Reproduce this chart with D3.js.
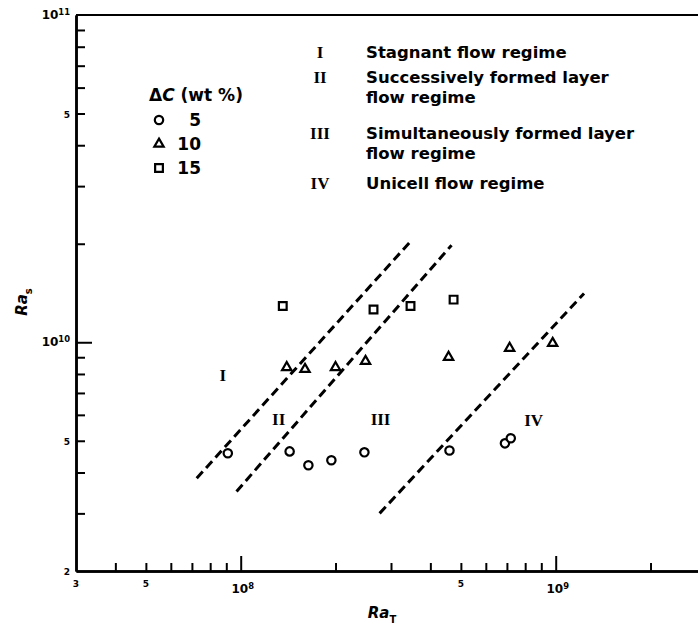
<!DOCTYPE html>
<html>
<head>
<meta charset="utf-8">
<script src="https://cdn.jsdelivr.net/npm/d3@7"></script>
<style>
  body { margin: 0; background: #fff; }
  svg { display: block; font-family: "DejaVu Sans", sans-serif; font-weight: bold; }
</style>
</head>
<body>
<svg></svg>
<script>
const svgWidth = 698
const svgHeight = 631

// measured points, dC = 5, 10, 15 wt%
const circleRaT = [9.1e7, 1.43e8, 1.64e8, 1.94e8, 2.47e8, 4.6e8, 6.9e8, 7.2e8]
const circleRaS = [4.58e9, 4.64e9, 4.21e9, 4.36e9, 4.61e9, 4.67e9, 4.91e9, 5.09e9]
const triangleRaT = [1.4e8, 1.6e8, 2.0e8, 2.49e8, 4.57e8, 7.14e8, 9.78e8]
const triangleRaS = [8.38e9, 8.27e9, 8.38e9, 8.75e9, 9.0e9, 9.59e9, 9.93e9]
const squareRaT = [1.36e8, 2.64e8, 3.46e8, 4.74e8]
const squareRaS = [1.29e10, 1.26e10, 1.29e10, 1.35e10]

// regime boundaries (dashed), [start, end] as [RaT, RaS]
const boundaries = [
  [[7.25e7, 3.84e9], [3.44e8, 2.02e10]],
  [[9.7e7, 3.5e9], [4.67e8, 1.98e10]],
  [[2.76e8, 3.0e9], [1.23e9, 1.41e10]]
]

// regime labels inside the plot
const regimeNames = ["I", "II", "III", "IV"]
const regimeRaT = [8.77e7, 1.32e8, 2.78e8, 8.51e8]
const regimeRaS = [7.93e9, 5.82e9, 5.82e9, 5.77e9]
const regimeText = [
  ["Stagnant flow regime"],
  ["Successively formed layer", "flow regime"],
  ["Simultaneously formed layer", "flow regime"],
  ["Unicell flow regime"]
]

const legendLabels = ["5", "10", "15"]

// axes
const xDomain = [3e7, 3e9]
const yDomain = [2e9, 1e11]
const xMinorTicks = [4e7, 5e7, 6e7, 7e7, 8e7, 9e7, 2e8, 3e8, 4e8, 5e8, 6e8, 7e8, 8e8, 9e8, 2e9]
const xMajorTicks = [1e8, 1e9]
const yMinorTicks = [3e9, 4e9, 5e9, 6e9, 7e9, 8e9, 9e9, 2e10, 3e10, 4e10, 5e10, 6e10, 7e10, 8e10, 9e10]
const yMajorTicks = [1e10]
const xLabelValues = [3e7, 5e7, 1e8, 5e8, 1e9]
const xLabelText = ["3", "5", "10", "5", "10"]
const xLabelSup = ["", "", "8", "", "9"]
const yLabelValues = [2e9, 5e9, 1e10, 5e10, 1e11]
const yLabelText = ["2", "5", "10", "5", "10"]
const yLabelSup = ["", "", "10", "", "11"]

const svg = d3.select("svg")
  .attr("width", svgWidth)
  .attr("height", svgHeight)

const xScale = d3.scaleLog().domain(xDomain).range([76, 706])
const yScale = d3.scaleLog().domain(yDomain).range([571, 15])

const x0 = xScale(xDomain[0])
const y0 = yScale(yDomain[0])

function styleAxis(g) {
  g.select(".domain").attr("stroke-width", 2.5)
  g.selectAll(".tick line").attr("stroke-width", 2)
}

svg.append("g")
  .attr("transform", `translate(0,${y0})`)
  .call(d3.axisBottom(xScale).tickValues(xMinorTicks).tickSizeInner(-8).tickSizeOuter(0).tickFormat(""))
  .call(styleAxis)
svg.append("g")
  .attr("transform", `translate(0,${y0})`)
  .call(d3.axisBottom(xScale).tickValues(xMajorTicks).tickSizeInner(-15).tickSizeOuter(0).tickFormat(""))
  .call(styleAxis)
svg.append("g")
  .attr("transform", `translate(${x0},0)`)
  .call(d3.axisLeft(yScale).tickValues(yMinorTicks).tickSizeInner(-9).tickSizeOuter(0).tickFormat(""))
  .call(styleAxis)
svg.append("g")
  .attr("transform", `translate(${x0},0)`)
  .call(d3.axisLeft(yScale).tickValues(yMajorTicks).tickSizeInner(-16).tickSizeOuter(0).tickFormat(""))
  .call(styleAxis)

// top frame line
svg.append("line")
  .attr("x1", x0)
  .attr("x2", xScale(xDomain[1]))
  .attr("y1", yScale(yDomain[1]))
  .attr("y2", yScale(yDomain[1]))
  .attr("stroke", "#000")
  .attr("stroke-width", 2)

function powerLabel(sel, base, sup) {
  sel.append("tspan").text(base)
  if (sup) {
    sel.append("tspan").attr("dy", "-0.45em").attr("font-size", "70%").text(sup)
  }
}

svg.selectAll(".x-label")
  .data(xLabelValues)
  .enter()
  .append("text")
  .attr("class", "x-label")
  .attr("x", (d, i) => xScale(d) + (xLabelSup[i] ? 2 : 0))
  .attr("y", (d, i) => xLabelSup[i] ? 593 : 587)
  .attr("text-anchor", "middle")
  .attr("font-size", (d, i) => xLabelSup[i] ? 12 : 9)
  .each(function (d, i) { powerLabel(d3.select(this), xLabelText[i], xLabelSup[i]) })

svg.selectAll(".y-label")
  .data(yLabelValues)
  .enter()
  .append("text")
  .attr("class", "y-label")
  .attr("x", 70)
  .attr("y", (d) => yScale(d) + 4)
  .attr("text-anchor", "end")
  .attr("font-size", (d, i) => yLabelSup[i] ? 12 : 9)
  .each(function (d, i) { powerLabel(d3.select(this), yLabelText[i], yLabelSup[i]) })

// axis titles
const xTitle = svg.append("text")
  .attr("x", 382)
  .attr("y", 618)
  .attr("text-anchor", "middle")
  .attr("font-size", 15)
  .attr("font-style", "italic")
xTitle.append("tspan").text("Ra")
xTitle.append("tspan").attr("dy", 5).attr("font-size", 10).attr("font-style", "normal").text("T")

const yTitle = svg.append("text")
  .attr("transform", "translate(27,302) rotate(-90)")
  .attr("text-anchor", "middle")
  .attr("font-size", 15)
  .attr("font-style", "italic")
yTitle.append("tspan").text("Ra")
yTitle.append("tspan").attr("dy", 5).attr("font-size", 10).attr("font-style", "normal").text("s")

// regime boundaries
const line = d3.line()
  .x((d) => xScale(d[0]))
  .y((d) => yScale(d[1]))

svg.selectAll(".boundary")
  .data(boundaries)
  .enter()
  .append("path")
  .attr("class", "boundary")
  .attr("d", line)
  .attr("fill", "none")
  .attr("stroke", "#000")
  .attr("stroke-width", 3)
  .attr("stroke-dasharray", "9,5")

// markers
const circleSymbol = d3.symbol().type(d3.symbolCircle).size(55)
const triangleSymbol = d3.symbol().type(d3.symbolTriangle).size(38)
const squareSymbol = d3.symbol().type(d3.symbolSquare).size(60)
const markerSets = [
  { xs: circleRaT, ys: circleRaS, sym: circleSymbol },
  { xs: triangleRaT, ys: triangleRaS, sym: triangleSymbol },
  { xs: squareRaT, ys: squareRaS, sym: squareSymbol }
]

markerSets.forEach((set, index) => {
  svg.selectAll(`.marker-${index}`)
    .data(set.xs)
    .enter()
    .append("path")
    .attr("class", `marker-${index}`)
    .attr("d", set.sym)
    .attr("transform", (d, i) => `translate(${xScale(d)},${yScale(set.ys[i])})`)
    .attr("fill", "#fff")
    .attr("stroke", "#000")
    .attr("stroke-width", 2.2)
})

// regime numerals in the plot
svg.selectAll(".regime")
  .data(regimeNames)
  .enter()
  .append("text")
  .attr("class", "regime")
  .attr("x", (d, i) => xScale(regimeRaT[i]))
  .attr("y", (d, i) => yScale(regimeRaS[i]) + 6)
  .attr("text-anchor", "middle")
  .attr("font-family", "'Liberation Serif', serif")
  .attr("font-size", 17)
  .text((d) => d)

// concentration legend
const legend = svg.append("g")
const legendTitle = legend.append("text")
  .attr("x", 149)
  .attr("y", 101)
  .attr("font-size", 17)
legendTitle.append("tspan").text("\u0394")
legendTitle.append("tspan").attr("font-style", "italic").text("C")
legendTitle.append("tspan").text(" (wt %)")

legend.selectAll(".legend-symbol")
  .data(markerSets)
  .enter()
  .append("path")
  .attr("d", (d) => d.sym())
  .attr("transform", (d, i) => `translate(159,${120 + i * 24})`)
  .attr("fill", "#fff")
  .attr("stroke", "#000")
  .attr("stroke-width", 2.2)

legend.selectAll(".legend-text")
  .data(legendLabels)
  .enter()
  .append("text")
  .attr("x", 201)
  .attr("y", (d, i) => 126 + i * 24)
  .attr("text-anchor", "end")
  .attr("font-size", 17)
  .text((d) => d)

// regime key
const keyY = [52, 77, 133, 183]
const key = svg.append("g")
regimeNames.forEach((name, i) => {
  key.append("text")
    .attr("x", 320)
    .attr("y", keyY[i] + 6)
    .attr("text-anchor", "middle")
    .attr("font-family", "'Liberation Serif', serif")
    .attr("font-size", 17)
    .text(name)
  regimeText[i].forEach((t, j) => {
    key.append("text")
      .attr("x", 366)
      .attr("y", keyY[i] + 6 + j * 20)
      .attr("font-size", 16.5)
      .text(t)
  })
})
</script>
</body>
</html>
